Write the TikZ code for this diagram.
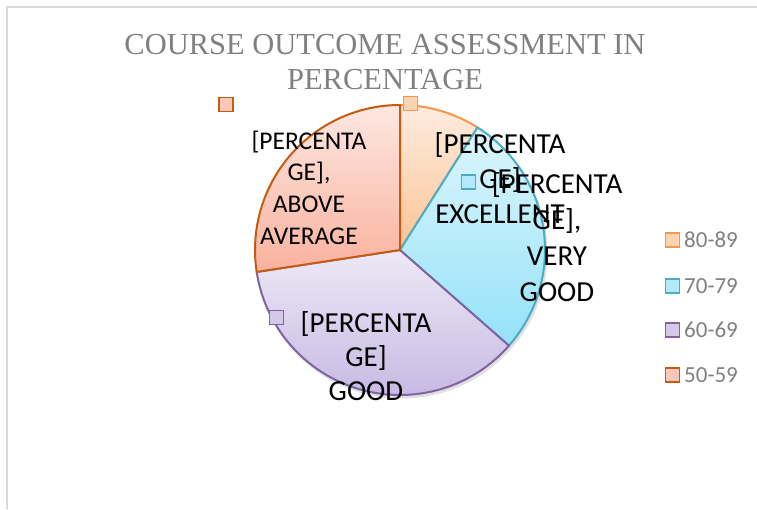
\documentclass[tikz,border=0pt]{standalone}
\usepackage{fontspec}
\setmainfont{Liberation Serif}
\newfontfamily\calfont{Carlito}
\usepackage{xcolor}
\usepackage{tikz}

\definecolor{orngedge}{RGB}{247,150,70}
\definecolor{orngtop}{RGB}{253,236,224}
\definecolor{orngbot}{RGB}{251,196,148}
\definecolor{blueedge}{RGB}{75,172,198}
\definecolor{bluetop}{RGB}{222,246,253}
\definecolor{bluebot}{RGB}{148,226,248}
\definecolor{purpedge}{RGB}{128,100,162}
\definecolor{purptop}{RGB}{237,233,246}
\definecolor{purpbot}{RGB}{196,180,225}
\definecolor{salmedge}{RGB}{197,90,17}
\definecolor{salmtop}{RGB}{253,231,225}
\definecolor{salmbot}{RGB}{249,178,158}
\definecolor{titlegray}{RGB}{128,128,128}
\definecolor{framegray}{RGB}{217,217,217}

\begin{document}
\begin{tikzpicture}[x=1pt, y=1pt,
  slice/.style={line width=2pt, line join=round},
  key/.style={draw, line width=1.8pt, minimum size=14pt, inner sep=0pt},
  ttl/.style={font=\fontsize{30.5}{36}\selectfont, text=titlegray, inner sep=0pt},
  lbl/.style={font=\calfont\fontsize{29}{35}\selectfont, align=center, inner sep=0pt},
  lgd/.style={font=\calfont\fontsize{23}{28}\selectfont, text=titlegray, anchor=west, inner sep=0pt}]
\useasboundingbox (0,0) rectangle (757,509);
\draw[framegray, line width=2pt] (7,0)--(7,502)--(757,502);

\node[ttl, anchor=base] (title1) at (385,454) {COURSE OUTCOME ASSESSMENT IN};
\node[ttl, anchor=base] (title2) at (385,419) {PERCENTAGE};

\coordinate (c) at (400,259);
\fill[black!12] (401.5,256.5) circle[radius=146];

\shadedraw[slice, top color=orngtop, bottom color=orngbot, draw=orngedge] (c)--++(90:145) arc[start angle=90, end angle=57.7, radius=145]--cycle;
\shadedraw[slice, top color=bluetop, bottom color=bluebot, draw=blueedge] (c)--++(57.7:145) arc[start angle=57.7, end angle=-41.3, radius=145]--cycle;
\shadedraw[slice, top color=purptop, bottom color=purpbot, draw=purpedge] (c)--++(-41.3:145) arc[start angle=-41.3, end angle=-171.3, radius=145]--cycle;
\shadedraw[slice, top color=salmtop, bottom color=salmbot, draw=salmedge] (c)--++(-171.3:145) arc[start angle=-171.3, end angle=-270, radius=145]--cycle;

% data labels
\node[key, draw=salmedge, fill=salmtop!40!salmbot] (k50) at (226,404.5) {};
\node[lbl, font=\calfont\fontsize{25.5}{31.7}\selectfont] (l50) at (309,321.5) {[PERCENTA\\GE],\\ABOVE\\AVERAGE};
\node[key, draw=orngedge, fill=orngtop!40!orngbot] (k80) at (410.5,405.5) {};
\node[lbl] (l80) at (500,331) {[PERCENTA\\GE]\\EXCELLENT};
\node[key, draw=blueedge, fill=bluetop!40!bluebot] (k70) at (468.5,327) {};
\node[lbl, font=\calfont\fontsize{29}{36}\selectfont] (l70) at (557,272) {[PERCENTA\\GE],\\VERY\\GOOD};
\node[key, draw=purpedge, fill=purptop!40!purpbot] (k60) at (276.5,191.5) {};
\node[lbl, font=\calfont\fontsize{29}{34}\selectfont] (l60) at (366,153) {[PERCENTA\\GE]\\GOOD};

% legend
\node[key, draw=orngedge, fill=orngtop!40!orngbot] (lk80) at (672.5,269) {};
\node[lgd] (lt80) at (684,269) {80-89};
\node[key, draw=blueedge, fill=bluetop!40!bluebot] (lk70) at (672.5,223) {};
\node[lgd] (lt70) at (684,223) {70-79};
\node[key, draw=purpedge, fill=purptop!40!purpbot] (lk60) at (672.5,179) {};
\node[lgd] (lt60) at (684,179) {60-69};
\node[key, draw=salmedge, fill=salmtop!40!salmbot] (lk50) at (672.5,134) {};
\node[lgd] (lt50) at (684,134) {50-59};
\end{tikzpicture}
\end{document}
